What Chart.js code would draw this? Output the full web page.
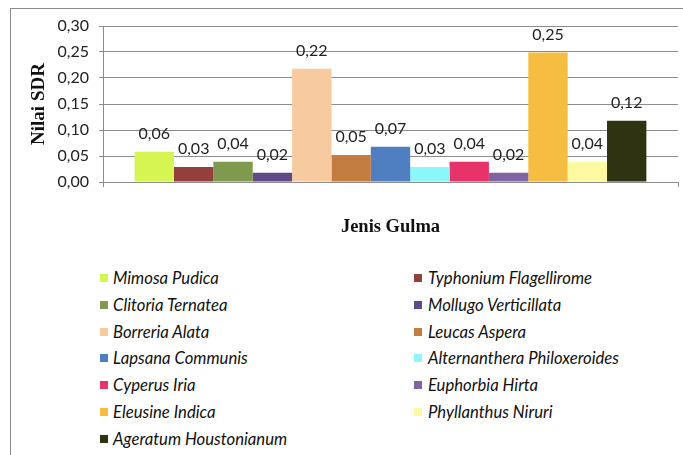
<!DOCTYPE html>
<html>
<head>
<meta charset="utf-8">
<script src="https://cdn.jsdelivr.net/npm/chart.js@4.4.1/dist/chart.umd.min.js"></script>
<style>
  html, body { margin: 0; padding: 0; background: #fff; }
  #wrap { position: relative; width: 683px; height: 455px; overflow: hidden; background: #fff; }
  #frame { position: absolute; left: 10px; top: 8px; width: 700px; height: 460px; border-left: 1px solid #8a8a8a; border-top: 1px solid #8a8a8a; box-sizing: border-box; }
  #c { position: absolute; left: 0; top: 0; }
  .lg { position: absolute; font-family: Lato, "Open Sans", sans-serif; font-style: italic; font-size: 16.7px; color: #111; line-height: 18px; white-space: nowrap; }
  .lg span.sw { position: absolute; width: 8px; height: 8px; top: 5px; }
</style>
</head>
<body>
<div id="wrap">
  <div id="frame"></div>
  <canvas id="c" width="683" height="250"></canvas>
  <div id="legend"></div>
</div>
<script>
const species = ["Mimosa Pudica","Typhonium Flagellirome","Clitoria Ternatea","Mollugo Verticillata","Borreria Alata","Leucas Aspera","Lapsana Communis","Alternanthera Philoxeroides","Cyperus Iria","Euphorbia Hirta","Eleusine Indica","Phyllanthus Niruri","Ageratum Houstonianum"];
const sdrValues = [0.058, 0.029, 0.039, 0.018, 0.218, 0.052, 0.068, 0.029, 0.039, 0.018, 0.249, 0.039, 0.118];
const barColors = ["#d4f552","#953f3c","#7f9a4e","#604a86","#f8caa0","#c47d40","#4f7fc0","#8cf7f9","#e8326a","#8064a2","#f5be42","#fdf9a0","#2f3312"];
const yTicks = [0, 0.05, 0.10, 0.15, 0.20, 0.25, 0.30];

const fmt = v => v.toFixed(2).replace('.', ',');

const datasets = species.map((name, i) => ({
  label: name,
  data: [sdrValues[i]],
  backgroundColor: barColors[i],
  borderWidth: 0,
  barPercentage: 1.0,
  categoryPercentage: 0.89
}));

const valueLabels = {
  id: 'valueLabels',
  afterDatasetsDraw(chart) {
    const ctx = chart.ctx;
    ctx.save();
    ctx.font = '16px Lato, "Open Sans", sans-serif';
    ctx.fillStyle = '#222';
    ctx.textAlign = 'center';
    ctx.textBaseline = 'middle';
    chart.data.datasets.forEach((ds, i) => {
      const el = chart.getDatasetMeta(i).data[0];
      ctx.fillText(fmt(ds.data[0]), el.x, el.y - 18);
    });
    ctx.restore();
  }
};

new Chart(document.getElementById('c'), {
  type: 'bar',
  data: { labels: [''], datasets },
  options: {
    responsive: false,
    animation: false,
    layout: { padding: { left: 20, right: 5, top: 26, bottom: 12 } },
    plugins: { legend: { display: false }, tooltip: { enabled: false } },
    scales: {
      x: {
        grid: { drawOnChartArea: false, drawTicks: true, tickLength: 5, color: '#8c8c8c', offset: true },
        border: { display: true, color: '#8c8c8c' },
        ticks: { display: false },
        title: { display: true, text: 'Jenis Gulma', color: '#111', font: { family: '"Liberation Serif", "Times New Roman", serif', size: 18.5, weight: 'bold' }, padding: 0 },
        afterFit(scale) { scale.height = 56; }
      },
      y: {
        min: 0, max: 0.30,
        afterBuildTicks(scale) { scale.ticks = yTicks.map(v => ({ value: v })); },
        ticks: { callback: v => fmt(v), color: '#222', padding: 10, font: { family: 'Lato, "Open Sans", sans-serif', size: 16 } },
        grid: { color: '#8c8c8c', tickLength: 4, lineWidth: 1 },
        border: { display: true, color: '#8c8c8c' },
        title: { display: true, text: 'Nilai SDR', color: '#111', font: { family: '"Liberation Serif", "Times New Roman", serif', size: 19, weight: 'bold' }, padding: { top: 8 } },
        afterFit(scale) { scale.width = 83; }
      }
    }
  },
  plugins: [valueLabels]
});

// legend (two columns, row-major order)
const lg = document.getElementById('legend');
species.forEach((name, i) => {
  const col = i % 2, row = Math.floor(i / 2);
  const d = document.createElement('div');
  d.className = 'lg';
  const top = 269 + row * 26.8;
  d.style.top = top + 'px';
  d.style.left = (col === 0 ? 100 : 414) + 'px';
  d.style.paddingLeft = (col === 0 ? 13 : 14) + 'px';
  const sw = document.createElement('span');
  sw.className = 'sw';
  sw.style.left = '0px';
  sw.style.background = barColors[i];
  d.appendChild(sw);
  d.appendChild(document.createTextNode(name));
  lg.appendChild(d);
});
</script>
</body>
</html>
